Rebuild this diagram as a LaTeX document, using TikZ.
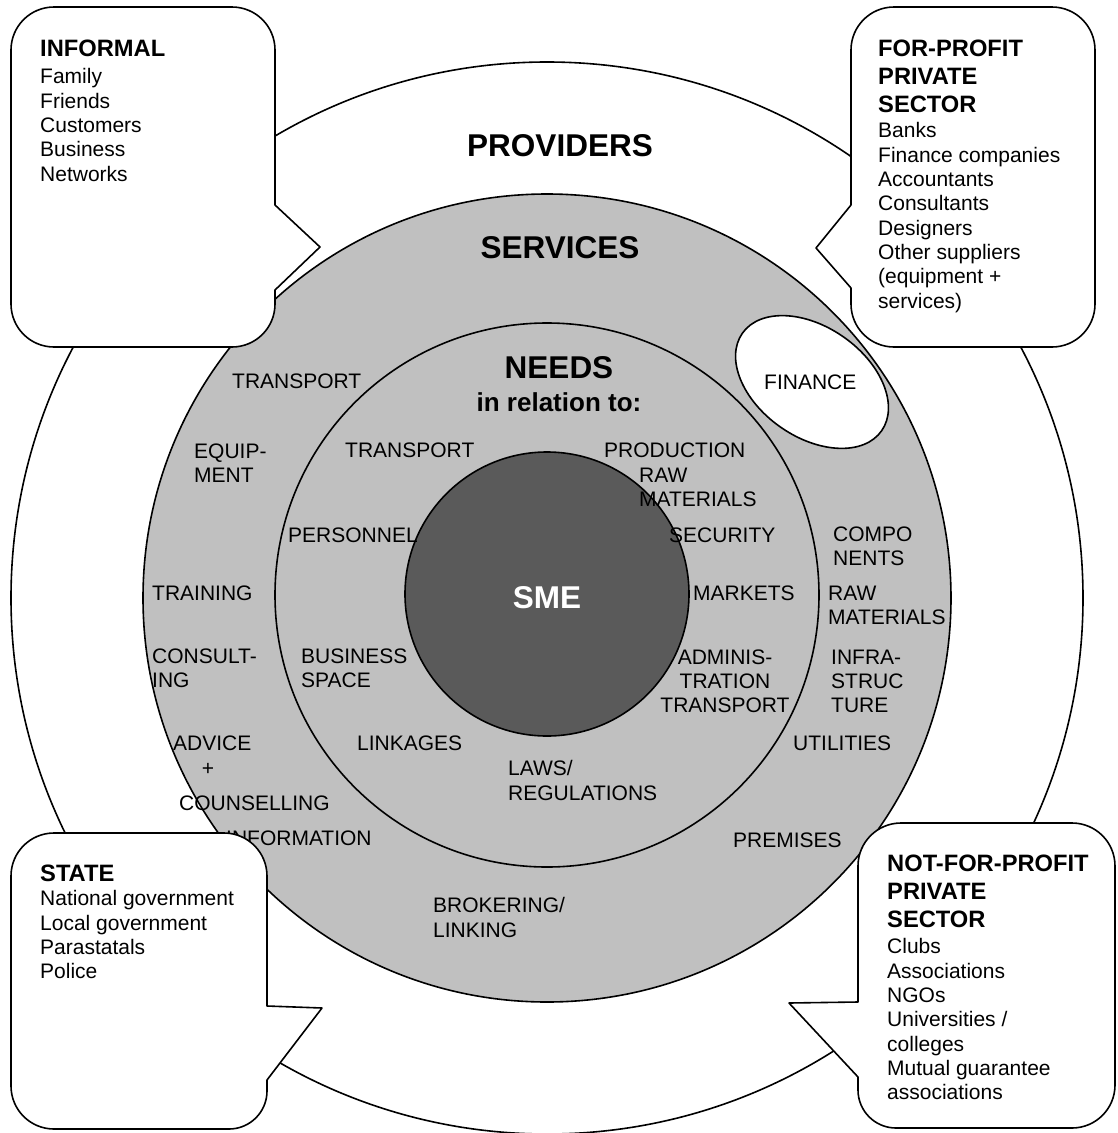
\documentclass[tikz,border=0pt]{standalone}
\usepackage{fontspec}
\setmainfont{Liberation Sans}
\definecolor{ringgray}{RGB}{192,192,192}
\definecolor{coredark}{RGB}{90,90,90}
\tikzset{
  lbl/.style={inner sep=0pt, font=\fontsize{21}{24.3}\selectfont, align=left, anchor=north west},
  lblc/.style={inner sep=0pt, font=\fontsize{21}{24.3}\selectfont, align=center, anchor=north},
  head/.style={inner sep=0pt, font=\fontsize{23.7}{28}\selectfont\bfseries, align=left, anchor=north west},
  bigtitle/.style={inner sep=0pt, font=\fontsize{31.5}{36}\selectfont\bfseries},
  ring/.style={draw=black, line width=1.6pt},
  bubble/.style={draw=black, fill=white, line width=1.6pt, line join=round},
}
\begin{document}
\begin{tikzpicture}[x=1pt,y=-1pt]
\useasboundingbox (0,0) rectangle (1117,1133);
% rings
\draw[ring, fill=white] (547,598) circle[radius=536];
\draw[ring, fill=ringgray] (547,598) circle[radius=404];
\draw[ring] (547,595) circle[radius=272];
\draw[ring, fill=coredark] (547,594) circle[radius=142];
\draw[ring, fill=white, rotate around={-35:(812,382)}] (812,382) ellipse[x radius=85, y radius=55];

% titles
\node[bigtitle] (providers) at (560,145.5) {PROVIDERS};
\node[bigtitle] (services) at (560,248) {SERVICES};
\node[bigtitle] (needs) at (559,368) {NEEDS};
\node[inner sep=0pt, font=\fontsize{26}{30}\selectfont\bfseries] (relation) at (559,402) {in relation to:};
\node[bigtitle, text=white] (sme) at (547,598) {SME};

% services ring labels
\node[lbl] (s1) at (232,373.5) {TRANSPORT};
\node[lbl] (s2) at (194,443.5) {EQUIP-\\MENT};
\node[lbl] (s3) at (152,585.5) {TRAINING};
\node[lbl] (s4) at (152,648.5) {CONSULT-\\ING};
\node[lbl] (s5a) at (173,735.5) {ADVICE};
\node[inner sep=0pt, font=\fontsize{21}{24.3}\selectfont] (s5b) at (208,769) {+};
\node[lbl] (s5c) at (179,795.5) {COUNSELLING};
\node[lbl] (s6) at (226,830.5) {INFORMATION};
\node[lbl] (s7) at (433,897.5) {BROKERING/\\LINKING};
\node[lbl] (s8) at (733,832.5) {PREMISES};
\node[lbl] (s9) at (793,735.5) {UTILITIES};
\node[lbl] (s10) at (831,649.5) {INFRA-\\STRUC\\TURE};
\node[lbl] (s11) at (828,585.5) {RAW\\MATERIALS};
\node[lbl] (s12) at (833,526.5) {COMPO\\NENTS};
\node[lbl] (fin) at (764,374.5) {FINANCE};

% needs ring labels
\node[lbl] (n1) at (345,442.5) {TRANSPORT};
\node[lbl] (n2) at (604,442.5) {PRODUCTION};
\node[lbl] (n3) at (639,467.5) {RAW\\MATERIALS};
\node[lbl] (n4) at (288,527.5) {PERSONNEL};
\node[lbl] (n5) at (669,527.5) {SECURITY};
\node[lbl] (n6) at (693,585.5) {MARKETS};
\node[lbl] (n7) at (301,648.5) {BUSINESS\\SPACE};
\node[lblc] (n8) at (725,649.5) {ADMINIS-\\TRATION\\TRANSPORT};
\node[lbl] (n9) at (357,735.5) {LINKAGES};
\node[lbl] (n10) at (508,760.5) {LAWS/\\REGULATIONS};

% callout bubbles
\draw[bubble] (54,7) -- (232,7) arc[start angle=-90,end angle=0,radius=43]
  -- (275,205) -- (320,247) -- (275,290) -- (275,304)
  arc[start angle=0,end angle=90,radius=43] -- (54,347)
  arc[start angle=90,end angle=180,radius=43] -- (11,50)
  arc[start angle=180,end angle=270,radius=43] -- cycle;
\draw[bubble] (894,7) -- (1052,7) arc[start angle=-90,end angle=0,radius=43]
  -- (1095,304) arc[start angle=0,end angle=90,radius=43] -- (894,347)
  arc[start angle=90,end angle=180,radius=43] -- (851,288) -- (816,248) -- (851,205)
  -- (851,50) arc[start angle=180,end angle=270,radius=43] -- cycle;
\draw[bubble] (54,833) -- (224,833) arc[start angle=-90,end angle=0,radius=43]
  -- (267,1006) -- (322,1008) -- (267,1080) -- (267,1091)
  arc[start angle=0,end angle=90,radius=38] -- (54,1129)
  arc[start angle=90,end angle=180,radius=43] -- (11,876)
  arc[start angle=180,end angle=270,radius=43] -- cycle;
\draw[bubble] (901,823) -- (1072,823) arc[start angle=-90,end angle=0,radius=43]
  -- (1115,1085) arc[start angle=0,end angle=90,radius=43] -- (896,1128)
  arc[start angle=90,end angle=180,radius=38] -- (858,1077) -- (789,1003) -- (858,1002)
  -- (858,866) arc[start angle=180,end angle=270,radius=43] -- cycle;

% callout texts
\node[head] (infh) at (40,39.5) {INFORMAL};
\node[lbl] (infl) at (40,68.5) {Family\\Friends\\Customers\\Business\\Networks};
\node[head] (fph) at (878,39.8) {FOR-PROFIT\\PRIVATE\\SECTOR};
\node[lbl] (fpl) at (878,122.5) {Banks\\Finance companies\\Accountants\\Consultants\\Designers\\Other suppliers\\(equipment +\\services)};
\node[head] (sth) at (40,864.5) {STATE};
\node[lbl] (stl) at (40,890.5) {National government\\Local government\\Parastatals\\Police};
\node[head] (nfh) at (887,854.5) {NOT-FOR-PROFIT\\PRIVATE\\SECTOR};
\node[lbl] (nfl) at (887,938.5) {Clubs\\Associations\\NGOs\\Universities /\\colleges\\Mutual guarantee\\associations};
\end{tikzpicture}
\end{document}
